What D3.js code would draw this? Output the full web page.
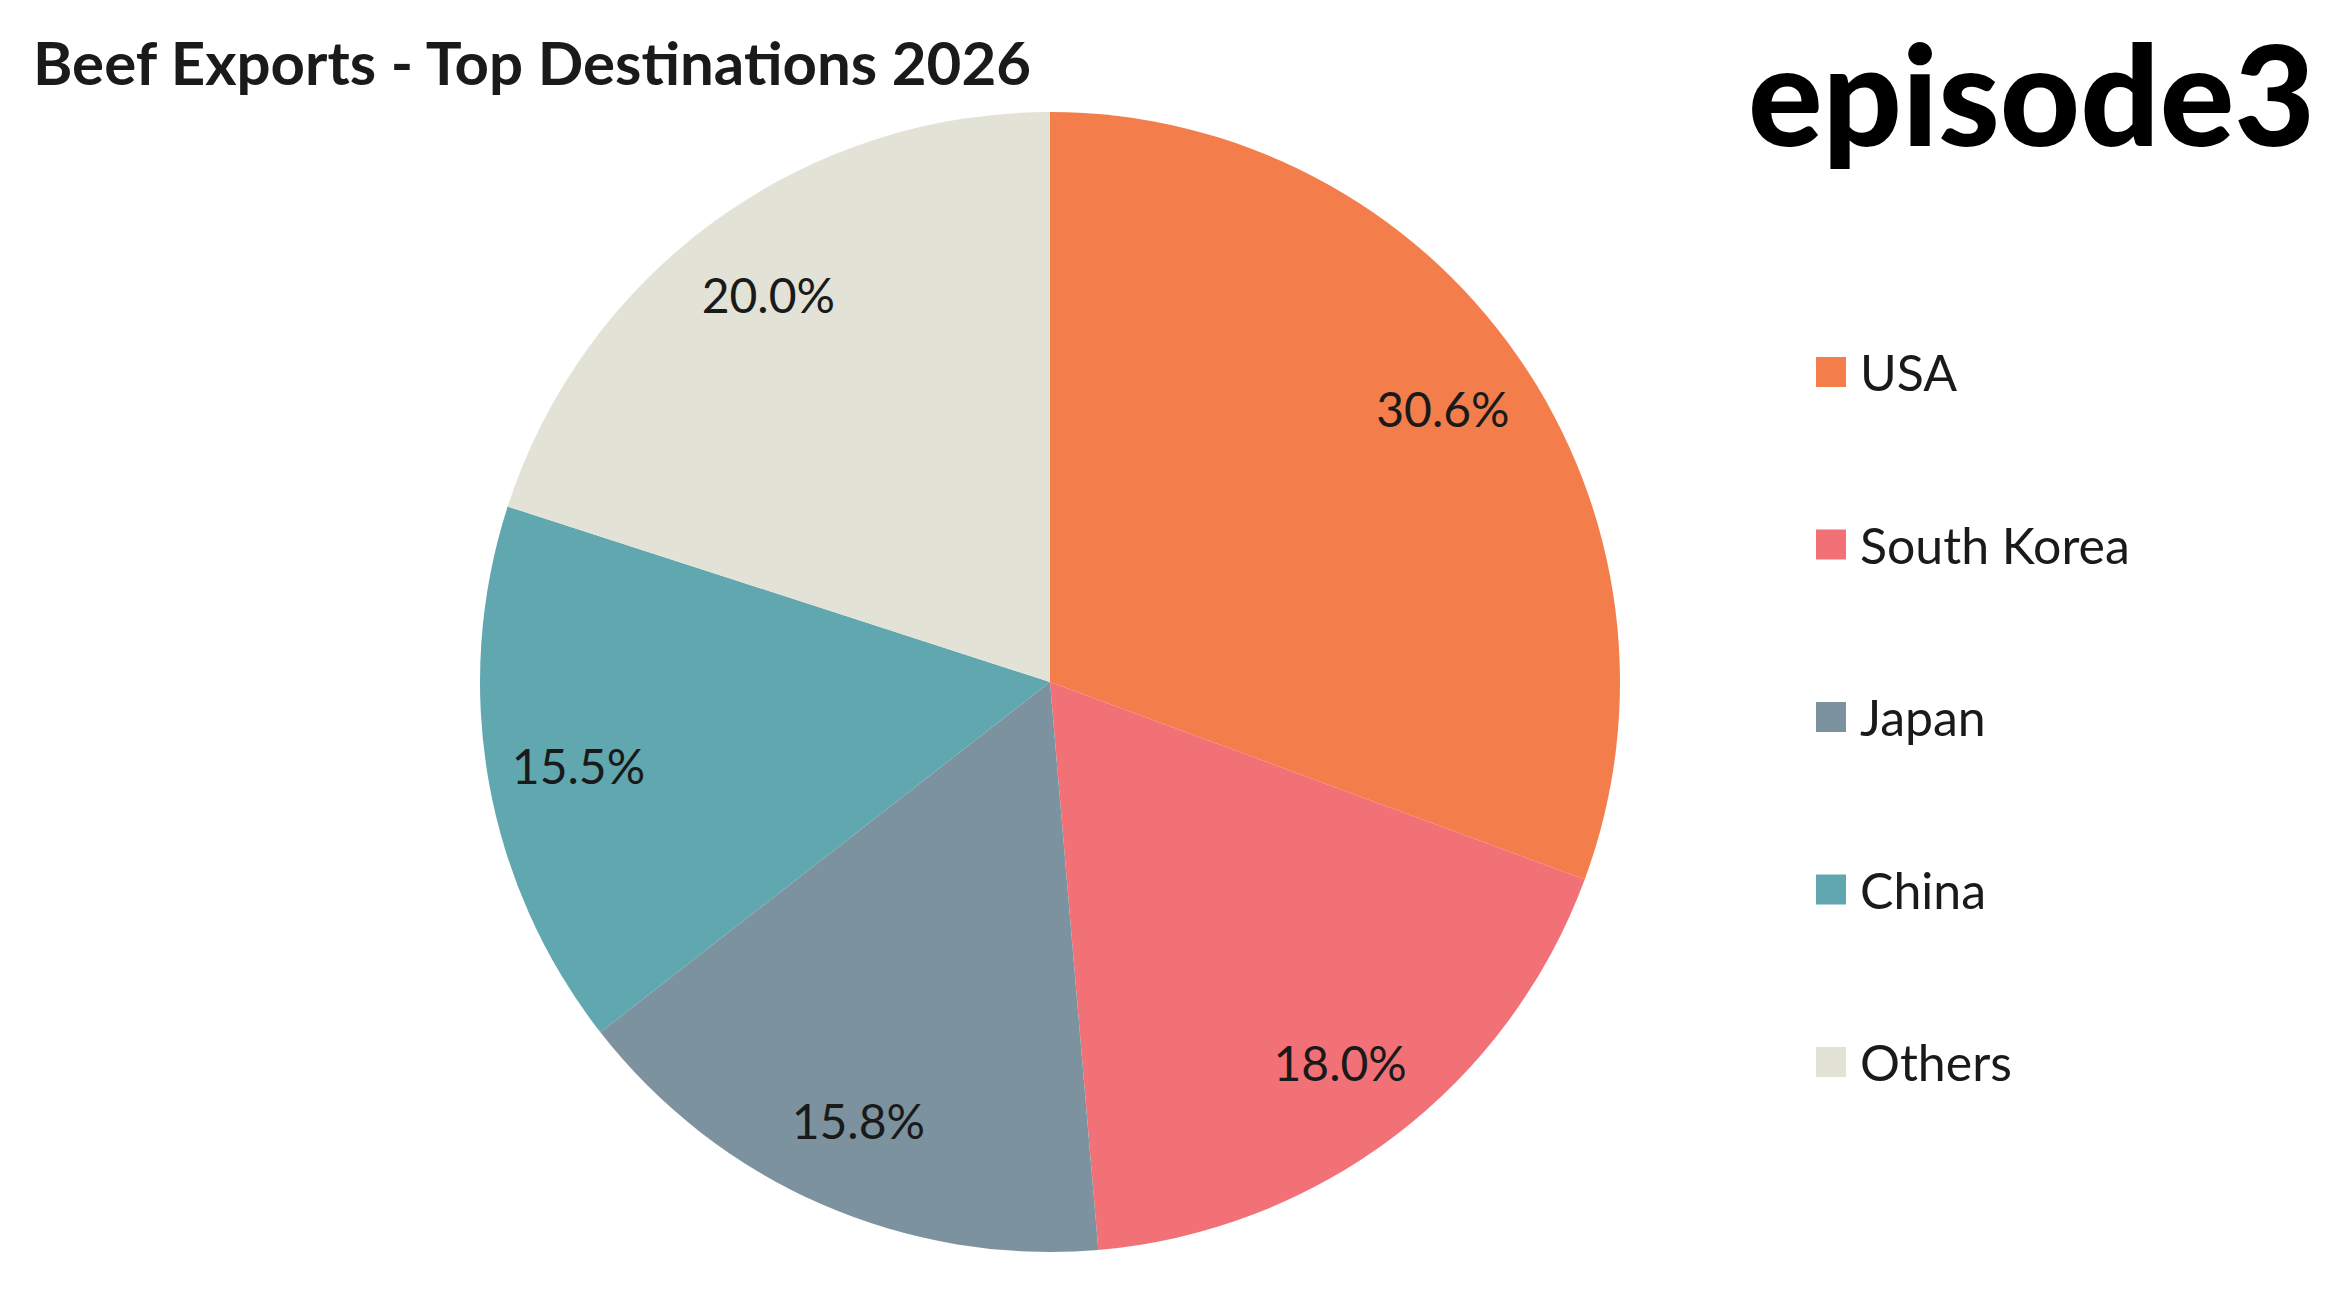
<!DOCTYPE html>
<html>
<head>
<meta charset="utf-8">
<script src="https://cdn.jsdelivr.net/npm/d3@7"></script>
<style>
  body { margin: 0; background: #fff; }
  text { font-family: Lato, "Noto Sans", sans-serif; fill: #1a1a1a; }
</style>
</head>
<body>
<div id="chart"></div>
<script>
var svgWidth = 2346;
var svgHeight = 1306;

var countries = ["USA", "South Korea", "Japan", "China", "Others"];
var shares = [30.6, 18.0, 15.8, 15.5, 20.0];
var colors = ["#f37e4b", "#f27176", "#7c939f", "#60a7af", "#e2e2d6"];

var svg = d3.select("#chart")
  .append("svg")
  .attr("width", svgWidth)
  .attr("height", svgHeight);

// title
svg.append("text")
  .attr("x", 33)
  .attr("y", 85)
  .attr("font-size", 60)
  .attr("font-weight", 700)
  .attr("textLength", 998)
  .attr("lengthAdjust", "spacingAndGlyphs")
  .text("Beef Exports - Top Destinations 2026");

// logo
svg.append("text")
  .attr("x", 1748)
  .attr("y", 146)
  .attr("font-family", "Lato, sans-serif")
  .attr("font-size", 140)
  .attr("font-weight", 900)
  .attr("textLength", 567)
  .attr("lengthAdjust", "spacingAndGlyphs")
  .style("fill", "#000")
  .text("episode3");

var cx = 1050, cy = 682, radius = 570;

var pieData = countries.map(function(c, i) {
  return { name: c, value: shares[i], color: colors[i] };
});

var pie = d3.pie()
  .sort(null)
  .value(d => d.value);

var arc = d3.arc()
  .innerRadius(0)
  .outerRadius(radius);

var labelArc = d3.arc()
  .innerRadius(radius * 0.84)
  .outerRadius(radius * 0.84);

var pieGroup = svg.append("g")
  .attr("transform", `translate(${cx}, ${cy})`);

var arcs = pie(pieData);

pieGroup.selectAll("path")
  .data(arcs)
  .enter()
  .append("path")
  .attr("d", arc)
  .attr("fill", d => d.data.color);

pieGroup.selectAll(".pct")
  .data(arcs)
  .enter()
  .append("text")
  .attr("class", "pct")
  .attr("transform", d => `translate(${labelArc.centroid(d)})`)
  .attr("text-anchor", "middle")
  .attr("dominant-baseline", "central")
  .attr("font-size", 48)
  .text(d => d.data.value.toFixed(1) + "%");

// legend
var legendY = d3.scalePoint()
  .domain(countries)
  .range([372, 1062]);

var legend = svg.append("g");

var items = legend.selectAll("g")
  .data(pieData)
  .enter()
  .append("g")
  .attr("transform", d => `translate(1816, ${legendY(d.name)})`);

items.append("rect")
  .attr("x", 0)
  .attr("y", -15)
  .attr("width", 30)
  .attr("height", 30)
  .attr("fill", d => d.color);

items.append("text")
  .attr("x", 44)
  .attr("y", 0)
  .attr("dominant-baseline", "central")
  .attr("font-size", 50)
  .text(d => d.name);
</script>
</body>
</html>
